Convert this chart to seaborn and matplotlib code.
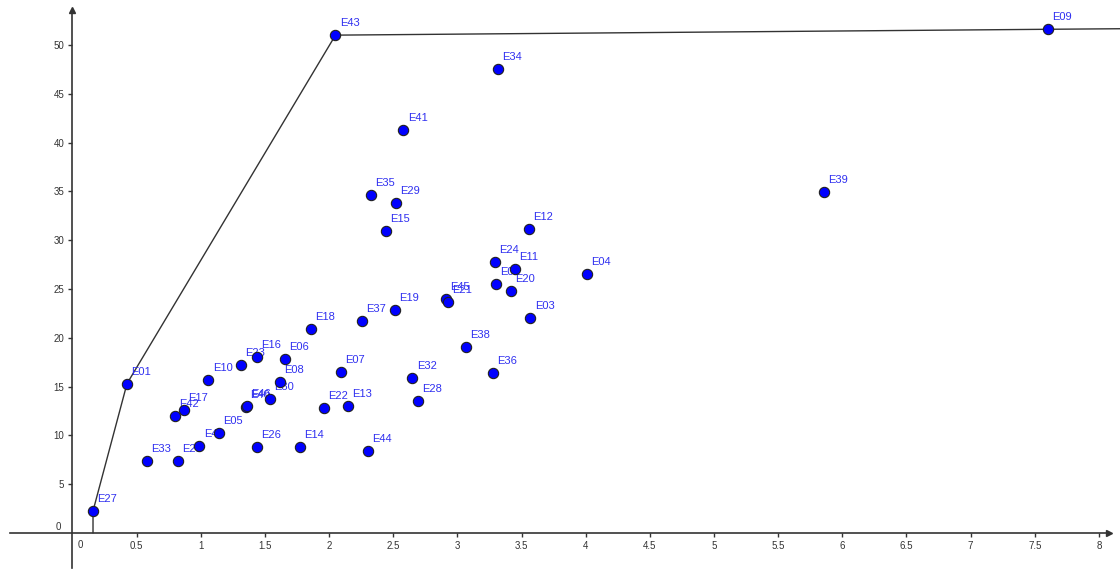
import numpy as np
import pandas as pd
import matplotlib
matplotlib.use("Agg")
import matplotlib.pyplot as plt
import seaborn as sns

# point names and coordinates
names = ["E27", "E01", "E43", "E09", "E34", "E41", "E35", "E29", "E15", "E12",
         "E39", "E24", "E11", "E04", "E02", "E20", "E45", "E21", "E03", "E19",
         "E37", "E18", "E38", "E36", "E32", "E28", "E07", "E22", "E13", "E44",
         "E14", "E26", "E06", "E08", "E16", "E23", "E10", "E30", "E40", "E46",
         "E17", "E42", "E05", "E47", "E25", "E33"]
xs = [0.16, 0.425, 2.05, 7.60, 3.32, 2.58, 2.33, 2.52, 2.44, 3.56,
      5.86, 3.29, 3.45, 4.01, 3.30, 3.42, 2.91, 2.93, 3.57, 2.51,
      2.26, 1.86, 3.07, 3.28, 2.65, 2.69, 2.09, 1.96, 2.15, 2.30,
      1.77, 1.44, 1.66, 1.62, 1.44, 1.31, 1.06, 1.54, 1.35, 1.36,
      0.87, 0.80, 1.14, 0.99, 0.82, 0.58]
ys = [2.25, 15.3, 51.0, 51.6, 47.5, 41.3, 34.6, 33.8, 30.9, 31.1,
      34.9, 27.8, 27.0, 26.5, 25.5, 24.8, 24.0, 23.7, 22.0, 22.8,
      21.7, 20.9, 19.1, 16.4, 15.9, 13.5, 16.5, 12.8, 13.0, 8.4,
      8.8, 8.8, 17.8, 15.5, 18.0, 17.2, 15.7, 13.7, 12.9, 13.0,
      12.6, 12.0, 10.2, 8.9, 7.4, 7.4]

# frontier polyline
front_x = [0.16, 0.16, 0.425, 2.05, 7.60, 8.2]
front_y = [0.0, 2.25, 15.3, 51.0, 51.6, 51.66]

xticks = [0.5, 1, 1.5, 2, 2.5, 3, 3.5, 4, 4.5, 5, 5.5, 6, 6.5, 7, 7.5, 8]
yticks = [5, 10, 15, 20, 25, 30, 35, 40, 45, 50]

df = pd.DataFrame({"name": names, "x": xs, "y": ys})

sns.set_style("white")
plt.rcParams["font.family"] = ["Liberation Sans", "DejaVu Sans"]

fig = plt.figure(figsize=(11.2, 5.72), dpi=100)
ax = fig.add_axes([0, 0, 1, 1])
ax.set_xlim(-0.565, 8.165)
ax.set_ylim(-4.0, 54.6)

ax.plot(front_x, front_y, color="#333333", lw=1, zorder=2)

# labels under markers, like the original
for n, x, y in zip(names, xs, ys):
    ax.annotate(n, (x, y), xytext=(3, 5), textcoords="offset points",
                ha="left", va="bottom", fontsize=8, color="#3030f0", zorder=3)

sns.scatterplot(data=df, x="x", y="y", ax=ax, s=55, color="#0000ff",
                edgecolor="#202020", linewidth=0.8, zorder=4, legend=False)

# axes through the origin
for s in ["top", "right"]:
    ax.spines[s].set_visible(False)
ax.spines["left"].set_position(("data", 0))
ax.spines["bottom"].set_position(("data", 0))
ax.spines["left"].set_bounds(-3.6, 53.6)
ax.spines["bottom"].set_bounds(-0.49, 8.08)
for s in ["left", "bottom"]:
    ax.spines[s].set_color("#333333")
    ax.spines[s].set_linewidth(1.2)
ax.plot(8.08, 0, marker=">", color="#333333", ms=4, clip_on=False, zorder=5)
ax.plot(0, 53.6, marker="^", color="#333333", ms=4, clip_on=False, zorder=5)

ax.set_xticks(xticks)
ax.set_yticks(yticks)
ax.set_xticklabels([f"{t:g}" for t in xticks])
ax.set_yticklabels([f"{t:g}" for t in yticks])
ax.tick_params(axis="both", direction="out", length=3, width=1, color="#333333",
               labelsize=7, labelcolor="#333333", pad=3)
ax.tick_params(axis="x", bottom=True)
ax.tick_params(axis="y", left=True)
ax.text(0.06, -0.7, "0", fontsize=7, color="#333333", ha="center", va="top")
ax.text(-0.09, 0.6, "0", fontsize=7, color="#333333", ha="right", va="center")
ax.set_xlabel("")
ax.set_ylabel("")

fig.savefig("out.png", dpi=100)
